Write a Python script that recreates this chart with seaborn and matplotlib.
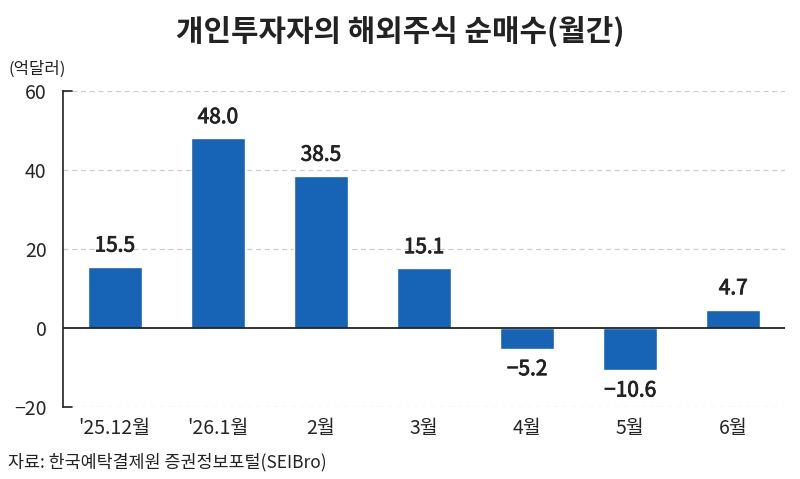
import pandas as pd
import matplotlib.pyplot as plt
import matplotlib.patheffects as path_effects
import seaborn as sns

# === Data ===
months = ["'25.12월", "'26.1월", "2월", "3월", "4월", "5월", "6월"]
net_buy = [15.5, 48.0, 38.5, 15.1, -5.2, -10.6, 4.7]
y_ticks = [-20, 0, 20, 40, 60]

df = pd.DataFrame({"month": months, "net_buy": net_buy})

sns.set_style("white")
plt.rcParams['font.family'] = ['Noto Sans CJK KR', 'DejaVu Sans']
plt.rcParams['axes.unicode_minus'] = False

fig = plt.figure(figsize=(8, 4.79), dpi=100)
ax = fig.add_axes([0.079, 0.150, 0.902, 0.660])

sns.barplot(data=df, x="month", y="net_buy", color="#1763b5", width=0.52,
            saturation=1, ax=ax, zorder=3)

ax.set_ylim(-20, 60)
ax.set_xlim(-0.5, len(months) - 0.5)
ax.set_yticks(y_ticks)
ax.set_yticklabels([f"−{abs(t)}" if t < 0 else str(t) for t in y_ticks], fontsize=14)
ax.tick_params(axis='y', length=0, pad=12)
ax.tick_params(axis='x', length=0, pad=8, labelsize=14)

for t in [20, 40, 60, -20]:
    ax.axhline(t, color="#cccccc", lw=0.9, ls=(0, (4, 3)), zorder=1)
ax.axhline(0, color="#222222", lw=1.3, zorder=4)

for s in ["top", "right", "bottom"]:
    ax.spines[s].set_visible(False)
ax.spines["left"].set_color("#222222")
ax.spines["left"].set_linewidth(1.2)
ax.plot([0, 0.012], [1, 1], transform=ax.transAxes, color="#222222", lw=1.2, clip_on=False)
ax.plot([0, 0.012], [0, 0], transform=ax.transAxes, color="#222222", lw=1.2, clip_on=False)

ax.set_xlabel("")
ax.set_ylabel("")

# slightly heavier than regular, lighter than bold
stroke = [path_effects.withStroke(linewidth=0.6, foreground="#222222")]
for i, v in enumerate(net_buy):
    label = f"−{abs(v):.1f}" if v < 0 else f"{v:.1f}"
    if v >= 0:
        ax.text(i, v + 2.6, label, ha="center", va="bottom", fontsize=15,
                color="#222222", path_effects=stroke)
    else:
        ax.text(i, v - 2.4, label, ha="center", va="top", fontsize=15,
                color="#222222", path_effects=stroke)

fig.text(0.5, 0.935, "개인투자자의 해외주식 순매수(월간)", ha="center", va="center",
         fontsize=21.5, fontweight="bold", color="#222222")
fig.text(0.010, 0.855, "(억달러)", ha="left", va="center", fontsize=12, color="#222222")
fig.text(0.010, 0.035, "자료: 한국예탁결제원 증권정보포털(SEIBro)", ha="left", va="center",
         fontsize=12.5, color="#222222")

fig.savefig("out.png", dpi=100)
